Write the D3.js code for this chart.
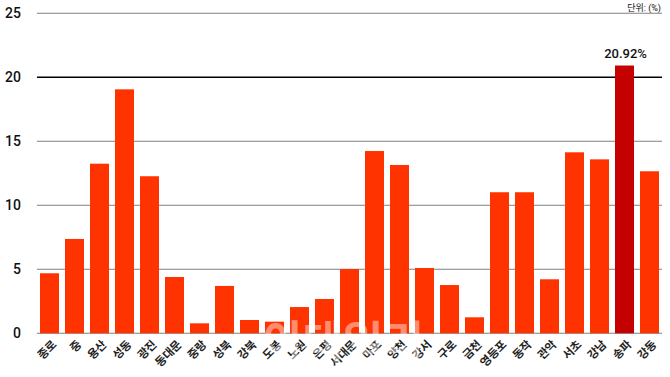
<!DOCTYPE html>
<html>
<head>
<meta charset="utf-8">
<script src="https://cdn.jsdelivr.net/npm/d3@7"></script>
<style>
  body { margin: 0; background: #fff; }
  text { font-family: Roboto, "Noto Sans CJK KR", sans-serif; }
</style>
</head>
<body>
<div id="vis"></div>
<script>
// seoul districts and their values (%)
let districts = ['종로', '중', '용산', '성동', '광진', '동대문', '중랑', '성북', '강북', '도봉',
  '노원', '은평', '서대문', '마포', '양천', '강서', '구로', '금천', '영등포', '동작',
  '관악', '서초', '강남', '송파', '강동'];
let values = [4.69, 7.37, 13.25, 19.06, 12.27, 4.40, 0.78, 3.70, 1.04, 0.91,
  2.05, 2.68, 5.02, 14.24, 13.15, 5.10, 3.77, 1.25, 11.02, 11.02,
  4.22, 14.14, 13.59, 20.92, 12.66];
let yTicks = [0, 5, 10, 15, 20, 25];
let highlight = '송파';
let unitLabel = '단위: (%)';

let width = 670, height = 377;
let margin = { top: 13, left: 37, right: 8, bottom: 44 };

let svg = d3.select('#vis')
  .append('svg')
  .attr('width', width)
  .attr('height', height);

let x = d3.scaleBand()
  .domain(districts)
  .range([margin.left, width - margin.right])
  .paddingInner(0.24)
  .paddingOuter(0.12);

let y = d3.scaleLinear()
  .domain([0, 25])
  .range([height - margin.bottom + 0.3, margin.top + 0.3]);

// gridlines
svg.append('g')
  .selectAll('line')
  .data(yTicks)
  .join('line')
  .attr('x1', margin.left)
  .attr('x2', width - margin.right)
  .attr('y1', d => y(d))
  .attr('y2', d => y(d))
  .attr('stroke', d => d == 20 ? '#000' : '#808080')
  .attr('stroke-width', d => d == 20 ? 1.4 : 1.1);

// y labels
svg.append('g')
  .selectAll('text')
  .data(yTicks)
  .join('text')
  .attr('x', 21)
  .attr('y', d => y(d))
  .attr('dy', '0.36em')
  .attr('text-anchor', 'end')
  .attr('font-size', 14)
  .attr('font-weight', 500)
  .attr('fill', '#111')
  .text(d => d);

// bars
svg.append('g')
  .selectAll('rect')
  .data(districts)
  .join('rect')
  .attr('x', d => x(d))
  .attr('width', x.bandwidth())
  .attr('y', (d, i) => y(values[i]))
  .attr('height', (d, i) => y(0) - y(values[i]))
  .attr('fill', d => d == highlight ? '#c40000' : '#ff3300');

// value label on the highlighted bar
let hi = districts.indexOf(highlight);
svg.append('text')
  .attr('x', x(highlight) + x.bandwidth() / 2 + 1)
  .attr('y', y(values[hi]) - 8)
  .attr('text-anchor', 'middle')
  .attr('font-size', 13)
  .attr('font-weight', 500)
  .attr('fill', '#111')
  .text(values[hi].toFixed(2) + '%');

// unit
svg.append('text')
  .attr('x', 661)
  .attr('y', 10.5)
  .attr('text-anchor', 'end')
  .attr('font-size', 9)
  .attr('font-family', '"Noto Sans CJK KR", sans-serif')
  .attr('fill', '#111')
  .text(unitLabel);

// x labels, rotated
svg.append('g')
  .selectAll('text')
  .data(districts)
  .join('text')
  .attr('transform', d => 'translate(' + (x(d) + x.bandwidth() / 2 + 5) + ',' + (y(0) + 9) + ') rotate(-45)')
  .attr('text-anchor', 'end')
  .attr('dy', '0.35em')
  .attr('font-size', 11.5)
  .attr('font-weight', 700)
  .attr('font-family', '"Noto Sans CJK KR", sans-serif')
  .attr('fill', '#222')
  .text(d => d);

// faint watermark
svg.append('text')
  .attr('x', 262)
  .attr('y', 358)
  .attr('font-size', 44)
  .attr('font-weight', 700)
  .attr('font-family', '"Noto Sans CJK KR", sans-serif')
  .attr('fill', '#fff')
  .attr('fill-opacity', 0.45)
  .text('이데일리');
</script>
</body>
</html>
